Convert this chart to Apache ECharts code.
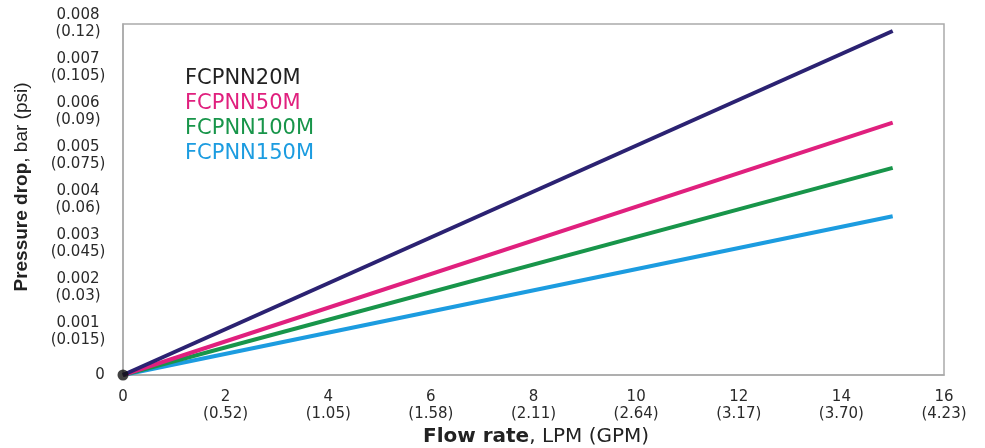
<!DOCTYPE html>
<html>
<head>
<meta charset="utf-8">
<script src="https://cdn.jsdelivr.net/npm/echarts@6/dist/echarts.min.js"></script>
<style>html,body{margin:0;padding:0;background:#fff;}#c{width:985px;height:448px;}</style>
</head>
<body>
<div id="c"></div>
<script>
var seriesNames = ['FCPNN20M', 'FCPNN50M', 'FCPNN100M', 'FCPNN150M'];
var flowLPM = [0, 15];
var drop20M = [0, 0.00784];
var drop50M = [0, 0.00575];
var drop100M = [0, 0.00472];
var drop150M = [0, 0.00362];
var xTickLPM = ['0', '2', '4', '6', '8', '10', '12', '14', '16'];
var xTickGPM = ['', '(0.52)', '(1.05)', '(1.58)', '(2.11)', '(2.64)', '(3.17)', '(3.70)', '(4.23)'];
var yTickBar = ['0', '0.001', '0.002', '0.003', '0.004', '0.005', '0.006', '0.007', '0.008'];
var yTickPsi = ['', '(0.015)', '(0.03)', '(0.045)', '(0.06)', '(0.075)', '(0.09)', '(0.105)', '(0.12)'];

var lineColors = ['#2b2272', '#e0207e', '#18954a', '#1c9ce0'];
var legendColors = ['#222222', '#e0207e', '#18954a', '#1c9ce0'];
var allDrops = [drop20M, drop50M, drop100M, drop150M];

function pairs(xs, ys) { return xs.map(function (x, i) { return [x, ys[i]]; }); }

var series = seriesNames.map(function (n, i) {
  return {
    name: n, type: 'line', data: pairs(flowLPM, allDrops[i]),
    showSymbol: false, symbol: 'none', z: 10 - i,
    lineStyle: { color: lineColors[i], width: 4, cap: 'butt' },
    itemStyle: { color: lineColors[i] }
  };
});
series.push({
  name: 'origin', type: 'scatter', data: [[flowLPM[0], drop20M[0]]],
  symbolSize: 11, itemStyle: { color: '#111' }, z: 20, silent: true
});

var chart = echarts.init(document.getElementById('c'));
chart.setOption({
  animation: false,
  backgroundColor: '#fff',
  grid: { left: 123, right: 41, top: 24, bottom: 73, show: true, borderColor: '#aaaaaa', borderWidth: 1.5 },
  legend: {
    orient: 'vertical', left: 180, top: 63, itemGap: 4,
    icon: 'none', itemWidth: 0, itemHeight: 14,
    data: seriesNames.map(function (n, i) {
      return { name: n, textStyle: { color: legendColors[i] } };
    }),
    textStyle: { fontFamily: 'DejaVu Sans', fontSize: 21, lineHeight: 21, padding: [0, 0, 0, -5] }
  },
  xAxis: {
    type: 'value', min: 0, max: 16, interval: 2,
    axisLine: { show: true, lineStyle: { color: '#aaaaaa', width: 1.5 } },
    axisTick: { show: false }, splitLine: { show: false },
    axisLabel: {
      margin: 14, color: '#2a2a2a', fontFamily: 'DejaVu Sans', fontSize: 15, lineHeight: 17,
      align: 'center',
      formatter: function (v) {
        var i = Math.round(v / 2);
        return xTickGPM[i] ? xTickLPM[i] + '\n' + xTickGPM[i] : xTickLPM[i];
      }
    }
  },
  yAxis: {
    type: 'value', min: 0, max: 0.008, interval: 0.001,
    axisLine: { show: true, lineStyle: { color: '#aaaaaa', width: 1.5 } },
    axisTick: { show: false }, splitLine: { show: false },
    axisLabel: {
      margin: 45, color: '#2a2a2a', fontFamily: 'DejaVu Sans', fontSize: 15, lineHeight: 17,
      align: 'center',
      formatter: function (v) {
        var i = Math.round(v / 0.001);
        return yTickPsi[i] ? yTickBar[i] + '\n' + yTickPsi[i] : '{z|' + yTickBar[i] + '}';
      },
      rich: { z: { fontFamily: 'DejaVu Sans', fontSize: 15, color: '#2a2a2a', padding: [0, 0, 0, 44] } }
    }
  },
  graphic: [
    {
      type: 'text', left: 423, top: 427, z: 100,
      style: {
        text: '{b|Flow rate}{n|, LPM (GPM)}',
        rich: {
          b: { fontFamily: 'DejaVu Sans', fontWeight: 'bold', fontSize: 20, fill: '#222' },
          n: { fontFamily: 'DejaVu Sans', fontSize: 20, fill: '#222' }
        }
      }
    },
    {
      type: 'text', x: 22, y: 187, rotation: Math.PI / 2, z: 100,
      style: {
        text: '{b|Pressure drop}{n|, bar (psi)}', align: 'center', verticalAlign: 'middle',
        rich: {
          b: { fontFamily: 'Liberation Sans', fontWeight: 'bold', fontSize: 19, fill: '#222' },
          n: { fontFamily: 'Liberation Sans', fontSize: 19, fill: '#222' }
        }
      }
    }
  ],
  series: series
});
</script>
</body>
</html>
